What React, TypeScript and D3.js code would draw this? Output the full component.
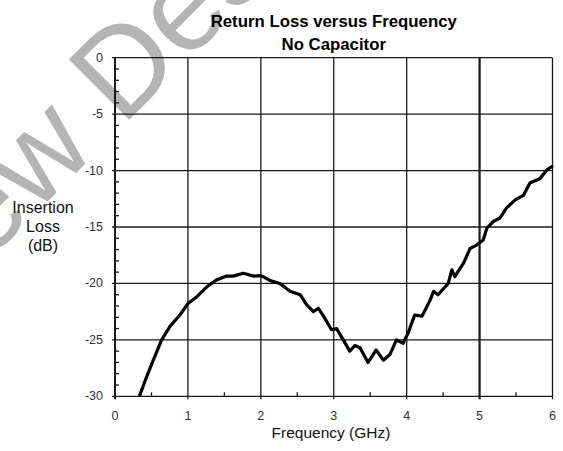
import React from 'react';
import * as d3 from 'd3';

const freqGHz = [
  0.34, 0.435, 0.525, 0.64, 0.754, 0.89, 1.005, 1.12, 1.26, 1.39, 1.53, 1.62, 1.76, 1.9, 1.99, 2.03,
  2.13, 2.26, 2.4, 2.54, 2.63, 2.72, 2.79, 2.86, 2.97, 3.04, 3.13, 3.22, 3.29, 3.36, 3.47, 3.58,
  3.68, 3.77, 3.86, 3.95, 4.02, 4.07, 4.11, 4.21, 4.32, 4.37, 4.43, 4.57, 4.62, 4.66, 4.78, 4.87,
  4.96, 5.05, 5.1, 5.19, 5.28, 5.37, 5.49, 5.6, 5.69, 5.83, 5.92, 5.99,
];
const lossDb = [
  -29.9, -28.25, -26.8, -25.0, -23.8, -22.8, -21.75, -21.2, -20.3, -19.7, -19.35, -19.35, -19.1, -19.35, -19.3, -19.4,
  -19.75, -20.0, -20.7, -21.0, -21.9, -22.5, -22.2, -22.9, -24.1, -24.0, -25.0, -26.0, -25.5, -25.7, -27.0, -25.9,
  -26.8, -26.3, -25.0, -25.3, -24.4, -23.5, -22.8, -22.9, -21.5, -20.7, -21.0, -20.0, -18.8, -19.4, -18.2, -16.9,
  -16.6, -16.15, -15.1, -14.5, -14.2, -13.3, -12.6, -12.2, -11.1, -10.7, -9.95, -9.65,
];

const xTicks = [0, 1, 2, 3, 4, 5, 6];
const xMinorTicks = [0.5, 1.5, 2.5, 3.5, 4.5, 5.5];
const yTicks = [0, -5, -10, -15, -20, -25, -30];
const yMinorTicks = d3.range(-29, 0).filter(v => v % 5 !== 0);

const titleLines = ['Return Loss versus Frequency', 'No Capacitor'];
const yTitleLines = ['Insertion', 'Loss', '(dB)'];
const xTitle = 'Frequency (GHz)';

const W = 563;
const H = 451;
const margin = { top: 57.7, right: 10.5, bottom: 54.7, left: 115 };

export default function App() {
  const x = d3.scaleLinear().domain([0, 6]).range([margin.left, W - margin.right]);
  const y = d3.scaleLinear().domain([-30, 0]).range([H - margin.bottom, margin.top]);

  const points = freqGHz.map((f, i) => ({ f, v: lossDb[i] }));
  const line = d3.line<{ f: number; v: number }>()
    .x(d => x(d.f))
    .y(d => y(d.v));

  const gridColor = '#1a1a1a';
  const labelFont = '"Liberation Sans", Arial, sans-serif';

  return (
    <svg width={W} height={H} style={{ position: 'absolute', left: 0, top: 0, background: '#fff' }}>
      {/* preview watermark, sits behind the chart */}
      <g transform="translate(122,127) rotate(-45)" fontFamily={labelFont} fontSize={124} fill="#b4b4b4">
        <text x={-34} textAnchor="end">Preview</text>
        <text x={0}>Design</text>
      </g>

      {/* horizontal grid */}
      {yTicks.map(t => (
        <line key={'hy' + t} x1={x(0) - 3} x2={x(6)} y1={y(t)} y2={y(t)} stroke={gridColor} strokeWidth={1.3} />
      ))}
      {/* vertical grid */}
      {xTicks.map(t => (
        <line key={'vx' + t} x1={x(t)} x2={x(t)} y1={y(0)} y2={y(-30) + 3} stroke={gridColor}
          strokeWidth={t === 5 ? 2.2 : t === 0 ? 2 : 1.3} />
      ))}
      {/* minor ticks */}
      {yMinorTicks.map(t => (
        <line key={'my' + t} x1={x(0)} x2={x(0) + 4} y1={y(t)} y2={y(t)} stroke={gridColor} strokeWidth={1.3} />
      ))}
      {xMinorTicks.map(t => (
        <line key={'mx' + t} x1={x(t)} x2={x(t)} y1={y(-30)} y2={y(-30) - 4} stroke={gridColor} strokeWidth={1.3} />
      ))}

      {/* data */}
      <path d={line(points) || ''} fill="none" stroke="#000" strokeWidth={3.2} strokeLinejoin="round" strokeLinecap="round" />

      {/* tick labels */}
      {yTicks.map(t => (
        <text key={'ly' + t} x={x(0) - 12} y={y(t) + 4} textAnchor="end" fontFamily={labelFont} fontSize={12.5} fill="#333">
          {t}
        </text>
      ))}
      {xTicks.map(t => (
        <text key={'lx' + t} x={x(t)} y={y(-30) + 24} textAnchor="middle" fontFamily={labelFont} fontSize={12.5} fill="#333">
          {t}
        </text>
      ))}

      {/* titles */}
      {titleLines.map((s, i) => (
        <text key={s} x={(x(0) + x(6)) / 2} y={27 + i * 22.5} textAnchor="middle" fontFamily={labelFont}
          fontWeight="bold" fontSize={16.8} fill="#000">
          {s}
        </text>
      ))}
      {yTitleLines.map((s, i) => (
        <text key={s} x={43} y={213 + i * 19} textAnchor="middle" fontFamily={labelFont} fontSize={16} fill="#111">
          {s}
        </text>
      ))}
      <text x={331} y={438} textAnchor="middle" fontFamily={labelFont} fontSize={15.5} fill="#111">
        {xTitle}
      </text>
    </svg>
  );
}
